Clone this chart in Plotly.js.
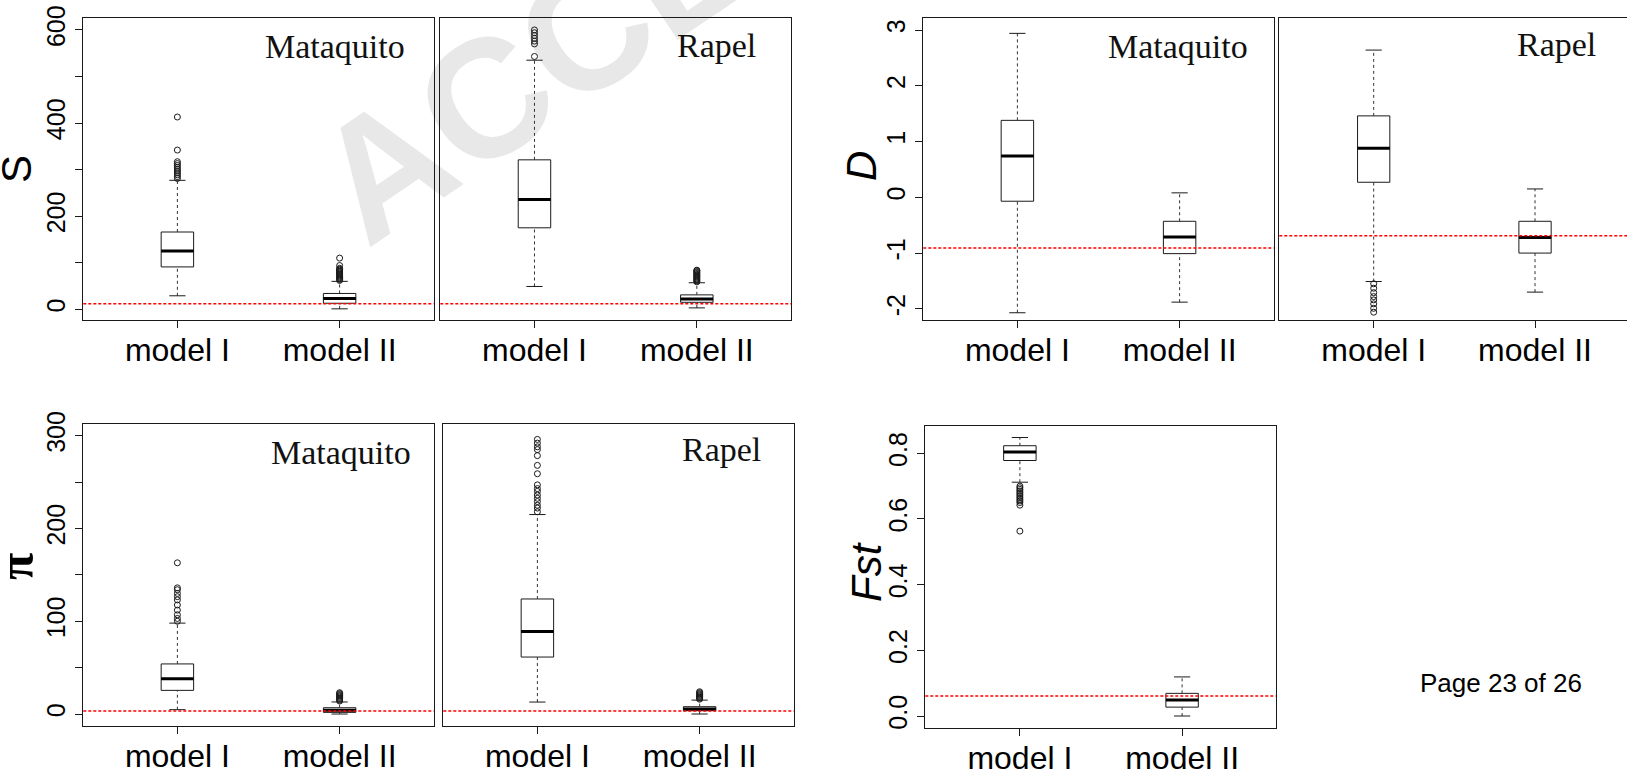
<!DOCTYPE html>
<html>
<head>
<meta charset="utf-8">
<script src="https://cdn.plot.ly/plotly-3.0.1.min.js"></script>
<style>
html,body{margin:0;padding:0;background:#ffffff;}
#chart{width:1627px;height:770px;}
</style>
</head>
<body>
<div id="chart"></div>
<script>
// ---------------- DATA ----------------
const models = ['model I', 'model II'];

// five-number summaries: [lower whisker, Q1, median, Q3, upper whisker]
const S_Mataquito_I  = [29, 91, 125, 166, 277];
const S_Mataquito_II = [1, 13, 23, 34, 60];
const S_Rapel_I      = [49, 175, 236, 321, 535];
const S_Rapel_II     = [3, 15, 22, 31, 57];
const S_Mataquito_I_out  = [413, 342, 317, 313, 309, 305, 301, 297, 293, 289, 285, 281];
const S_Mataquito_II_out = [110, 94, 88, 86, 84, 82, 80, 78, 76, 74, 72, 70, 68, 66, 64, 62];
const S_Rapel_I_out      = [543, 570, 576, 582, 588, 594, 600];
const S_Rapel_II_out     = [59, 61, 63, 65, 67, 69, 71, 73, 75, 77, 79, 81, 83, 84];
const S_observed_Mataquito = 12;
const S_observed_Rapel     = 12;

const D_Mataquito_I  = [-2.07, -0.07, 0.74, 1.38, 2.94];
const D_Mataquito_II = [-1.88, -1.01, -0.71, -0.43, 0.08];
const D_Rapel_I      = [-1.51, 0.27, 0.88, 1.46, 2.64];
const D_Rapel_II     = [-1.70, -1.00, -0.72, -0.43, 0.15];
const D_Mataquito_I_out  = [];
const D_Mataquito_II_out = [];
const D_Rapel_I_out      = [-1.55, -1.63, -1.71, -1.78, -1.84, -1.91, -1.99, -2.06];
const D_Rapel_II_out     = [];
const D_observed_Mataquito = -0.91;
const D_observed_Rapel     = -0.69;

const Pi_Mataquito_I  = [4.7, 25.5, 38, 54, 98];
const Pi_Mataquito_II = [0, 1.8, 4, 6.8, 13];
const Pi_Rapel_I      = [12.9, 61.4, 89, 124, 215];
const Pi_Rapel_II     = [0, 3.6, 5.4, 7.9, 15];
const Pi_Mataquito_I_out  = [163, 136, 134, 130, 126.5, 123, 117.5, 112, 107, 103, 100];
const Pi_Mataquito_II_out = [14, 15, 16, 17, 18, 19, 20, 21, 22, 23];
const Pi_Rapel_I_out      = [296, 292, 288, 285, 278.5, 268, 259, 247, 243, 240, 236, 232.5, 229, 225, 222, 218];
const Pi_Rapel_II_out     = [16, 17, 18, 19, 20, 21, 22, 23, 24];
const Pi_observed_Mataquito = 3.2;
const Pi_observed_Rapel     = 3.2;

const Fst_I  = [0.712, 0.778, 0.804, 0.823, 0.848];
const Fst_II = [0.0, 0.027, 0.049, 0.069, 0.119];
const Fst_I_out  = [0.70, 0.695, 0.69, 0.685, 0.68, 0.675, 0.67, 0.665, 0.66, 0.655, 0.65, 0.642, 0.563];
const Fst_II_out = [];
const Fst_observed = 0.061;

// tick values / labels
const S_ticks   = [0, 100, 200, 300, 400, 500, 600];
const S_labels  = ['0', '', '200', '', '400', '', '600'];
const D_ticks   = [-2, -1, 0, 1, 2, 3];
const D_labels  = ['-2', '-1', '0', '1', '2', '3'];
const Pi_ticks  = [0, 50, 100, 150, 200, 250, 300];
const Pi_labels = ['0', '', '100', '', '200', '', '300'];
const Fst_ticks  = [0, 0.2, 0.4, 0.6, 0.8];
const Fst_labels = ['0.0', '0.2', '0.4', '0.6', '0.8'];

// ---------------- LAYOUT / DRAWING ----------------
const W = 1627, H = 770;
const INK = '#1a1a1a';
const SANS = 'Liberation Sans, Arial, Helvetica, sans-serif';
const SERIF = 'Liberation Serif, Times New Roman, serif';

const traces = [], shapes = [], annotations = [];
const layout = {
  width: W, height: H,
  margin: {l: 0, r: 0, t: 0, b: 0},
  paper_bgcolor: '#ffffff',
  plot_bgcolor: 'rgba(0,0,0,0)',
  showlegend: false,
  font: {family: SANS, color: '#000'},
  hovermode: false
};

const panels = [
  {k: 1, px: [83.3, 433.7], py: [18.3, 320], xr: [0.42, 2.58], yr: [-23, 625],
   yt: S_ticks, yl: S_labels, title: 'S', tpos: [16, 169], name: 'Mataquito', lx: 0.923, ly: 0.908,
   sums: [S_Mataquito_I, S_Mataquito_II], outs: [S_Mataquito_I_out, S_Mataquito_II_out], obs: S_observed_Mataquito},
  {k: 2, px: [440.3, 791], py: [18.3, 320], xr: [0.42, 2.58], yr: [-23, 625],
   yt: null, name: 'Rapel', lx: 0.906, ly: 0.911,
   sums: [S_Rapel_I, S_Rapel_II], outs: [S_Rapel_I_out, S_Rapel_II_out], obs: S_observed_Rapel},
  {k: 3, px: [923.3, 1273.7], py: [18.3, 320], xr: [0.42, 2.58], yr: [-2.20, 3.21],
   yt: D_ticks, yl: D_labels, title: '<i>D</i>', tpos: [862, 166], name: 'Mataquito', lx: 0.932, ly: 0.908,
   sums: [D_Mataquito_I, D_Mataquito_II], outs: [D_Mataquito_I_out, D_Mataquito_II_out], obs: D_observed_Mataquito},
  {k: 4, px: [1279.3, 1627], py: [18.3, 320], xr: [0.415, 2.57], yr: [-2.20, 3.21],
   yt: null, name: 'Rapel', lx: 0.9166, ly: 0.914,
   sums: [D_Rapel_I, D_Rapel_II], outs: [D_Rapel_I_out, D_Rapel_II_out], obs: D_observed_Rapel},
  {k: 5, px: [83.3, 433.7], py: [424, 726], xr: [0.42, 2.58], yr: [-12.9, 312.6],
   yt: Pi_ticks, yl: Pi_labels, title: '<b>π</b>', tpos: [16, 566], titleFont: SERIF, titleSize: 50,
   name: 'Mataquito', lx: 0.940, ly: 0.907,
   sums: [Pi_Mataquito_I, Pi_Mataquito_II], outs: [Pi_Mataquito_I_out, Pi_Mataquito_II_out], obs: Pi_observed_Mataquito},
  {k: 6, px: [443.3, 793.7], py: [424, 726], xr: [0.42, 2.58], yr: [-12.9, 312.6],
   yt: null, name: 'Rapel', lx: 0.9115, ly: 0.914,
   sums: [Pi_Rapel_I, Pi_Rapel_II], outs: [Pi_Rapel_I_out, Pi_Rapel_II_out], obs: Pi_observed_Rapel},
  {k: 7, px: [925.3, 1275.7], py: [425.7, 727.7], xr: [0.417, 2.577], yr: [-0.0356, 0.884],
   yt: Fst_ticks, yl: Fst_labels, title: '<i>Fst</i>', tpos: [866, 572], name: null,
   sums: [Fst_I, Fst_II], outs: [Fst_I_out, Fst_II_out], obs: Fst_observed}
];

const BOXW = 0.2, CAPW = 0.1;

panels.forEach(p => {
  const sfx = p.k === 1 ? '' : String(p.k);
  const xa = 'x' + sfx, ya = 'y' + sfx;
  layout['xaxis' + sfx] = {
    domain: [p.px[0] / W, Math.min(1, p.px[1] / W)],
    range: p.xr, anchor: ya,
    tickmode: 'array', tickvals: [1, 2], ticktext: models,
    ticks: 'outside', ticklen: 7, tickwidth: 1, tickcolor: INK,
    ticklabelstandoff: -5,
    tickfont: {family: SANS, size: 32, color: '#000'},
    showline: true, mirror: true, linecolor: INK, linewidth: 1,
    showgrid: false, zeroline: false, fixedrange: true
  };
  const yax = {
    domain: [1 - p.py[1] / H, 1 - p.py[0] / H],
    range: p.yr, anchor: xa,
    showline: true, mirror: true, linecolor: INK, linewidth: 1,
    showgrid: false, zeroline: false, fixedrange: true
  };
  if (p.yt) {
    Object.assign(yax, {
      tickmode: 'array', tickvals: p.yt, ticktext: p.yl,
      ticks: 'outside', ticklen: 7, tickwidth: 1, tickcolor: INK,
      tickangle: -90, tickfont: {family: SANS, size: 25, color: '#000'}
    });
    // y-axis title (rotated text placed at the measured position)
    annotations.push({xref: 'paper', yref: 'paper', x: p.tpos[0] / W, y: 1 - p.tpos[1] / H,
      xanchor: 'center', yanchor: 'middle', textangle: -90, showarrow: false, text: p.title,
      font: {family: p.titleFont || SANS, size: p.titleSize || 42, color: '#000'}});
  } else {
    Object.assign(yax, {showticklabels: false, ticks: ''});
  }
  layout['yaxis' + sfx] = yax;

  p.sums.forEach((s, i) => {
    const pos = i + 1;
    // dashed whiskers
    traces.push({type: 'scatter', mode: 'lines', xaxis: xa, yaxis: ya,
      x: [pos, pos, null, pos, pos], y: [s[0], s[1], null, s[3], s[4]],
      line: {color: '#333', width: 1, dash: '3px,3px'}, hoverinfo: 'skip'});
    // staples
    traces.push({type: 'scatter', mode: 'lines', xaxis: xa, yaxis: ya,
      x: [pos - CAPW / 2, pos + CAPW / 2, null, pos - CAPW / 2, pos + CAPW / 2],
      y: [s[0], s[0], null, s[4], s[4]],
      line: {color: INK, width: 1}, hoverinfo: 'skip'});
    // box
    traces.push({type: 'box', xaxis: xa, yaxis: ya, x: [pos],
      q1: [s[1]], median: [s[2]], q3: [s[3]], lowerfence: [s[1]], upperfence: [s[3]],
      width: BOXW, whiskerwidth: 0, boxpoints: false,
      line: {color: INK, width: 1}, fillcolor: '#ffffff', hoverinfo: 'skip'});
    // thick median
    traces.push({type: 'scatter', mode: 'lines', xaxis: xa, yaxis: ya,
      x: [pos - BOXW / 2, pos + BOXW / 2], y: [s[2], s[2]],
      line: {color: '#000', width: 3}, hoverinfo: 'skip'});
    // outliers
    const o = p.outs[i];
    if (o.length) {
      traces.push({type: 'scatter', mode: 'markers', xaxis: xa, yaxis: ya,
        x: o.map(() => pos), y: o,
        marker: {symbol: 'circle-open', size: 6, color: INK, line: {width: 1, color: INK}},
        hoverinfo: 'skip'});
    }
  });

  // observed value (red dashed)
  shapes.push({type: 'line', xref: xa + ' domain', yref: ya, x0: 0, x1: 1, y0: p.obs, y1: p.obs,
    line: {color: '#ff0000', width: 1.5, dash: '3px,2px'}, layer: 'above'});

  if (p.name) {
    annotations.push({xref: xa + ' domain', yref: ya + ' domain', x: p.lx, y: p.ly,
      xanchor: 'right', yanchor: 'middle', showarrow: false, text: p.name,
      font: {family: SERIF, size: 34, color: '#111'}});
  }
});

annotations.push({xref: 'paper', yref: 'paper', x: 1501 / W, y: 1 - 683 / H,
  xanchor: 'center', yanchor: 'middle', showarrow: false, text: 'Page 23 of 26',
  font: {family: SANS, size: 26, color: '#000'}});

// light watermark behind the plots
const wmAng = 34 * Math.PI / 180;
const wx0 = 378, wy0 = 266, wl = 1500;
shapes.push({type: 'line', xref: 'paper', yref: 'paper', layer: 'below',
  x0: wx0 / W, y0: 1 - wy0 / H,
  x1: (wx0 + wl * Math.cos(wmAng)) / W, y1: 1 - (wy0 - wl * Math.sin(wmAng)) / H,
  line: {color: 'rgba(0,0,0,0)', width: 0},
  label: {text: 'ACCEPTED ARTICLE', textposition: 'start', textangle: 'auto', yanchor: 'bottom', padding: 0,
          font: {family: SANS, size: 168, color: '#e8e8e8', weight: 'bold'}}});

layout.shapes = shapes;
layout.annotations = annotations;

Plotly.newPlot('chart', traces, layout, {staticPlot: true, displayModeBar: false});
</script>
</body>
</html>
